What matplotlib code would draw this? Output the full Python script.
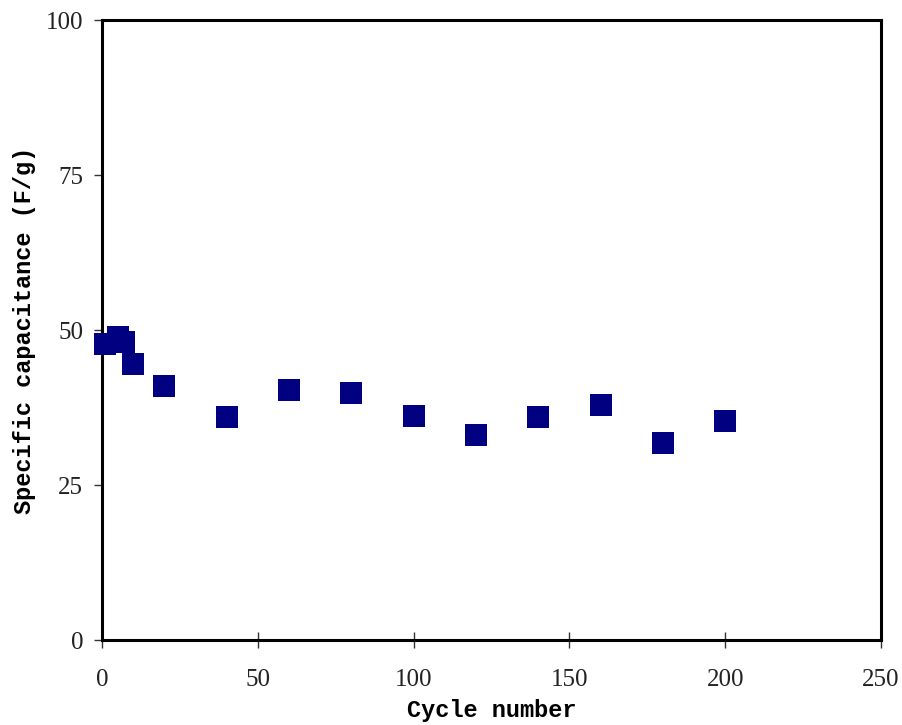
import matplotlib
matplotlib.use('Agg')
import matplotlib.pyplot as plt

cycles = [1, 5, 7, 10, 20, 40, 60, 80, 100, 120, 140, 160, 180, 200]
capacitance = [47.7, 48.9, 48.1, 44.6, 41.0, 36.0, 40.3, 39.8, 36.1, 33.1, 36.0, 37.9, 31.8, 35.3]

x_ticks = [0, 50, 100, 150, 200, 250]
y_ticks = [0, 25, 50, 75, 100]

fig = plt.figure(figsize=(9.02, 7.25), dpi=100)
ax = fig.add_axes([0.1131, 0.1172, 0.8636, 0.8552])

ax.plot(cycles, capacitance, linestyle='none', marker='s', markersize=15.5,
        color='#000080', markeredgewidth=0, clip_on=False, zorder=5)

ax.set_xlim(0, 250)
ax.set_ylim(0, 100)
ax.set_xticks(x_ticks)
ax.set_yticks(y_ticks)

for sp in ax.spines.values():
    sp.set_linewidth(2.2)
    sp.set_color('black')

ax.tick_params(axis='x', direction='inout', length=11.5, width=1, color='#333333', pad=15)
ax.tick_params(axis='y', direction='out', length=5.5, width=1, color='#333333', pad=8)
for lbl in ax.get_xticklabels() + ax.get_yticklabels():
    lbl.set_family('Liberation Serif')
    lbl.set_fontsize(18)
    lbl.set_color('#222222')

ax.set_xlabel('Cycle number', family='Liberation Mono', fontsize=17,
              fontweight='bold', labelpad=6)
ax.set_ylabel('Specific capacitance (F/g)', family='Liberation Mono', fontsize=17,
              fontweight='bold', labelpad=7)

fig.savefig('out.png', dpi=100)
